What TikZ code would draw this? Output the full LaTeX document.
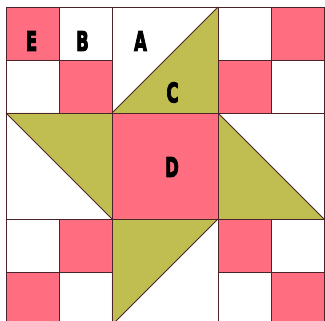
\documentclass[tikz,border=0pt]{standalone}
\usepackage{fontspec}
\usepackage{graphicx}
\setmainfont{Liberation Sans}
\newfontfamily\heavyfont[FakeBold=4]{DejaVu Sans Bold}
\definecolor{qpink}{RGB}{255,110,128}
\definecolor{qolive}{RGB}{192,190,80}
\definecolor{qline}{RGB}{75,35,40}
\tikzset{
  pinkcell/.style={fill=qpink},
  olivetri/.style={fill=qolive},
  seam/.style={draw=qline, line width=0.9pt},
  lbl/.style={font=\heavyfont\fontsize{30}{30}\selectfont, text=black, inner sep=0pt}
}
\newcommand{\qlbl}[1]{\scalebox{0.55}[0.9]{#1}}
\begin{document}
\begin{tikzpicture}[x=1pt,y=-1pt]
\useasboundingbox (0,0) rectangle (325,321);
\fill[white] (0,0) rectangle (325,321);
% pink cells
\foreach \x/\y in {6/7, 59/60, 271/7, 218/60, 59/219, 6/272, 218/219, 271/272}
  \fill[pinkcell] (\x,\y) rectangle ++(53,53);
\fill[pinkcell] (112,113) rectangle (218,219);
% olive triangles
\fill[olivetri] (218,7) -- (218,113) -- (112,113) -- cycle;
\fill[olivetri] (6,113) -- (112,113) -- (112,219) -- cycle;
\fill[olivetri] (218,113) -- (218,219) -- (324,219) -- cycle;
\fill[olivetri] (112,219) -- (218,219) -- (112,325) -- cycle;
% seams
\draw[seam] (6,7) rectangle (324,325);
\draw[seam] (112,7) -- (112,325);
\draw[seam] (218,7) -- (218,325);
\draw[seam] (6,113) -- (324,113);
\draw[seam] (6,219) -- (324,219);
\draw[seam] (59,7) -- (59,113) (59,219) -- (59,325);
\draw[seam] (271,7) -- (271,113) (271,219) -- (271,325);
\draw[seam] (6,60) -- (112,60) (218,60) -- (324,60);
\draw[seam] (6,272) -- (112,272) (218,272) -- (324,272);
\draw[seam] (112,113) -- (218,7);
\draw[seam] (6,113) -- (112,219);
\draw[seam] (218,113) -- (324,219);
\draw[seam] (218,219) -- (112,325);
% labels
\node[lbl] (E) at (31.5,41) {\qlbl{E}};
\node[lbl] (B) at (82.5,41) {\qlbl{B}};
\node[lbl] (A) at (140.5,41) {\qlbl{A}};
\node[lbl] (C) at (172.5,92.5) {\qlbl{C}};
\node[lbl] (D) at (172,167) {\qlbl{D}};
\end{tikzpicture}
\end{document}
